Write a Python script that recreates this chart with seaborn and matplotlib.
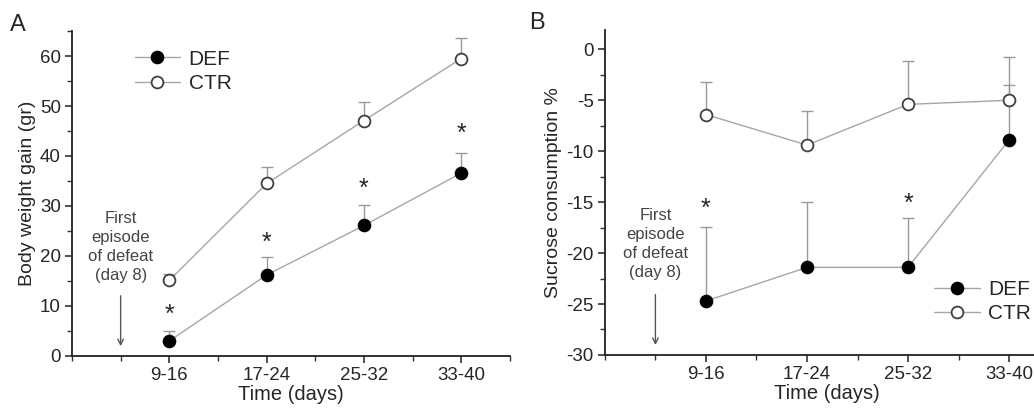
import numpy as np
import pandas as pd
import seaborn as sns
import matplotlib.pyplot as plt
from matplotlib.ticker import MultipleLocator

sns.set_style("ticks")
plt.rcParams['font.family'] = ['Liberation Sans', 'DejaVu Sans']
plt.rcParams['axes.unicode_minus'] = False

periods = ['9-16', '17-24', '25-32', '33-40']
groups = ['DEF', 'CTR']

# panel A: body weight gain (gr)
weight_def = [3.0, 16.2, 26.1, 36.6]
weight_def_err = [2.0, 3.6, 4.0, 3.9]
weight_ctr = [15.1, 34.5, 47.1, 59.5]
weight_ctr_err = [1.3, 3.2, 3.7, 4.2]
weight_star = [8.2, 22.7, 33.5, 44.5]

# panel B: sucrose consumption %
sucrose_def = [-24.7, -21.4, -21.4, -8.9]
sucrose_def_err = [7.3, 6.4, 4.8, 5.4]
sucrose_ctr = [-6.4, -9.4, -5.4, -5.0]
sucrose_ctr_err = [3.2, 3.3, 4.25, 4.2]
sucrose_star_idx = [0, 2]
sucrose_star = [-15.7, -15.2]

line_grey = '#a6a6a6'
err_grey = '#9a9a9a'


def make_df(def_vals, ctr_vals):
    pos = np.arange(1, len(periods) + 1)
    return pd.DataFrame({
        'pos': np.concatenate([pos, pos]),
        'period': periods * 2,
        'value': list(def_vals) + list(ctr_vals),
        'group': ['DEF'] * len(periods) + ['CTR'] * len(periods),
    })


def draw_panel(ax, df, errs, ylim, yticks, ystep):
    pos = np.arange(1, len(periods) + 1)
    styles = {'DEF': dict(markerfacecolor='black', markeredgecolor='black'),
              'CTR': dict(markerfacecolor='white', markeredgecolor='#404040')}
    for g in groups:
        sub = df[df['group'] == g]
        ax.errorbar(pos, sub['value'], yerr=[np.zeros(len(pos)), errs[g]], fmt='none',
                    ecolor=err_grey, elinewidth=1.0, capsize=4, capthick=1.0, zorder=1)
        sns.lineplot(data=sub, x='pos', y='value', ax=ax, color=line_grey, linewidth=1.0,
                     marker='o', markersize=8.5, markeredgewidth=1.3, label=g, zorder=3,
                     **styles[g])
    ax.set_xlim(0, 4.5)
    ax.set_ylim(*ylim)
    ax.set_xticks(pos)
    ax.set_xticklabels(periods)
    ax.xaxis.set_minor_locator(MultipleLocator(0.5))
    ax.set_yticks(yticks)
    ax.yaxis.set_minor_locator(MultipleLocator(ystep))
    ax.tick_params(axis='both', which='major', direction='out', length=5, width=1.2,
                   labelsize=13.5, color='#333333', pad=3)
    ax.tick_params(axis='both', which='minor', direction='out', length=3.5, width=1.0,
                   color='#333333')
    ax.set_xlabel('Time (days)', fontsize=14.5, labelpad=1)
    for s in ['top', 'right']:
        ax.spines[s].set_visible(False)
    for s in ['left', 'bottom']:
        ax.spines[s].set_linewidth(1.3)
        ax.spines[s].set_color('#222222')


fig = plt.figure(figsize=(10.34, 4.08), dpi=100)
axA = fig.add_axes([0.0696, 0.1275, 0.4236, 0.7965])
axB = fig.add_axes([0.585, 0.13, 0.43, 0.7965])

dfA = make_df(weight_def, weight_ctr)
draw_panel(axA, dfA, {'DEF': weight_def_err, 'CTR': weight_ctr_err},
           (0, 65), np.arange(0, 61, 10), 5)
axA.set_ylabel('Body weight gain (gr)', fontsize=14, labelpad=3)
for i, y in enumerate(weight_star):
    axA.text(i + 1, y, '*', ha='center', va='center', fontsize=18)
axA.text(0.5, 21.8, 'First\nepisode\nof defeat\n(day 8)', ha='center', va='center',
         fontsize=12, color='#444444', linespacing=1.35)
axA.annotate('', xy=(0.5, 1.4), xytext=(0.5, 12.6),
             arrowprops=dict(arrowstyle='->', color='#555555', lw=1.0))
axA.legend(loc='upper left', bbox_to_anchor=(0.1, 1.0), frameon=False, fontsize=15,
           handlelength=2.2, handletextpad=0.4, labelspacing=0.25)

dfB = make_df(sucrose_def, sucrose_ctr)
draw_panel(axB, dfB, {'DEF': sucrose_def_err, 'CTR': sucrose_ctr_err},
           (-30, 1.9), np.arange(-30, 1, 5), 2.5)
axB.set_xlim(0, 4.4)
axB.set_ylabel('Sucrose consumption %', fontsize=14, labelpad=3)
for i, y in zip(sucrose_star_idx, sucrose_star):
    axB.text(i + 1, y, '*', ha='center', va='center', fontsize=18)
axB.text(0.5, -19.1, 'First\nepisode\nof defeat\n(day 8)', ha='center', va='center',
         fontsize=12, color='#444444', linespacing=1.35)
axB.annotate('', xy=(0.5, -29.3), xytext=(0.5, -23.8),
             arrowprops=dict(arrowstyle='->', color='#555555', lw=1.0))
axB.legend(loc='lower right', bbox_to_anchor=(1.0, 0.04), frameon=False, fontsize=15,
           handlelength=2.2, handletextpad=0.4, labelspacing=0.25)

fig.text(0.01, 0.925, 'A', fontsize=17)
fig.text(0.512, 0.93, 'B', fontsize=17)

fig.savefig('out.png', dpi=100)
